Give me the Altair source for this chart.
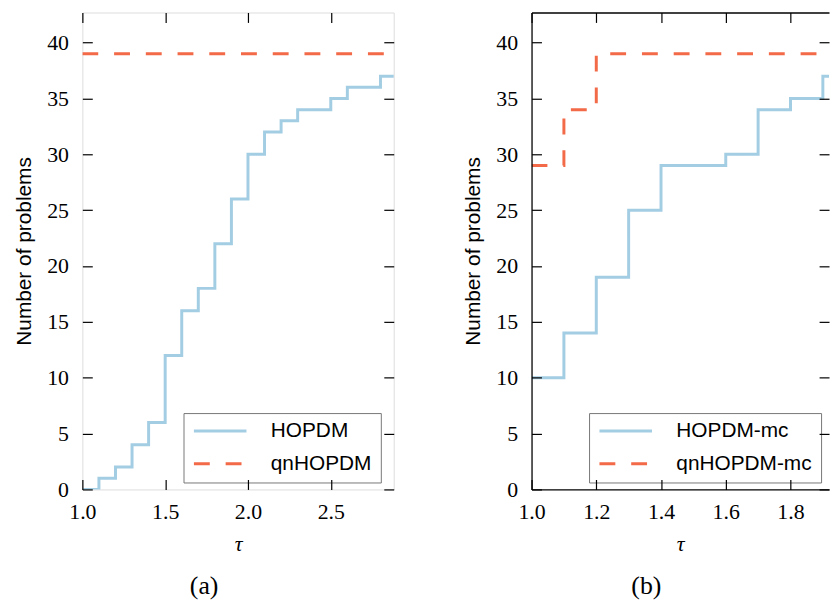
import altair as alt
import pandas as pd

# ---- data ----
# panel (a)
a_names = ["HOPDM", "qnHOPDM"]
a_tau_hopdm = [1.0, 1.1, 1.2, 1.3, 1.4, 1.5, 1.6, 1.7, 1.8, 1.9, 2.0, 2.1, 2.2, 2.3, 2.5, 2.6, 2.8, 3.0]
a_val_hopdm = [0, 1, 2, 4, 6, 12, 16, 18, 22, 26, 30, 32, 33, 34, 35, 36, 37, 37]
a_tau_qn = [1.0, 3.0]
a_val_qn = [39, 39]
a_xmax = 2.88
a_xticks = [1.0, 1.5, 2.0, 2.5]

# panel (b)
b_names = ["HOPDM-mc", "qnHOPDM-mc"]
b_tau_hopdm = [1.0, 1.1, 1.2, 1.3, 1.4, 1.6, 1.7, 1.8, 1.9, 2.1]
b_val_hopdm = [10, 14, 19, 25, 29, 30, 34, 35, 37, 37]
b_tau_qn = [1.0, 1.1, 1.2, 2.1]
b_val_qn = [29, 34, 39, 39]
b_xmax = 1.919
b_xticks = [1.0, 1.2, 1.4, 1.6, 1.8]

y_ticks = [0, 5, 10, 15, 20, 25, 30, 35, 40]
y_max = 42.7

BLUE = "#a3cde3"
ORANGE = "#f26a48"
SERIF = "Liberation Serif"
SANS = "Liberation Sans"


def frame_of(names, t1, v1, t2, v2):
    d1 = pd.DataFrame({"tau": t1, "value": v1, "series": names[0]})
    d2 = pd.DataFrame({"tau": t2, "value": v2, "series": names[1]})
    return pd.concat([d1, d2], ignore_index=True)


def panel(df, names, xmax, xticks, caption, width, legend_x, open_right):
    xs = alt.Scale(domain=[1.0, xmax], nice=False, zero=False)
    ys = alt.Scale(domain=[0, y_max], nice=False, zero=True)
    legend = alt.Legend(
        title=None, orient="none", legendX=legend_x, legendY=404,
        symbolType="stroke", symbolSize=2809, symbolStrokeWidth=3,
        labelFont=SANS, labelFontSize=21, labelColor="black", labelOffset=23,
        padding=9, strokeColor="#777777", fillColor="white",
        clipHeight=18, rowPadding=12,
    )
    tick_kw = dict(tickSize=10, tickColor="black", tickWidth=1.2, domain=False, grid=False,
                   zindex=1, offset=-10, labelFlush=False)
    lines = alt.Chart(df).mark_line(interpolate="step-after", strokeWidth=3, clip=True).encode(
        x=alt.X("tau:Q", scale=xs, axis=alt.Axis(
            orient="bottom", values=xticks, format=".1f", title="τ",
            labelPadding=12, labelFont=SERIF, labelFontSize=22, labelColor="black",
            titleFont=SERIF, titleFontStyle="italic", titleFontWeight="normal",
            titleFontSize=22, titleColor="black", titlePadding=12, **tick_kw)),
        y=alt.Y("value:Q", scale=ys, axis=alt.Axis(
            orient="left", values=y_ticks, format="d", title="Number of problems",
            labelPadding=14, labelFont=SERIF, labelFontSize=22, labelColor="black",
            titleFont=SANS, titleFontWeight="normal", titleFontSize=21,
            titleColor="black", titlePadding=12, **tick_kw)),
        color=alt.Color("series:N", scale=alt.Scale(domain=names, range=[BLUE, ORANGE]), legend=legend),
        strokeDash=alt.StrokeDash("series:N", scale=alt.Scale(domain=names, range=[[1, 0], [16, 16]]), legend=legend),
    )
    ticks = alt.Chart(df).mark_line(opacity=0, clip=True).encode(
        x=alt.X("tau:Q", scale=xs, axis=alt.Axis(orient="top", values=xticks, labels=False, title=None, **tick_kw)),
        y=alt.Y("value:Q", scale=ys, axis=alt.Axis(orient="right", values=y_ticks, labels=False, title=None, **tick_kw)),
    )
    dom_kw = dict(ticks=False, labels=False, title=None, grid=False, domain=True,
                  domainColor="black", domainWidth=1.3, zindex=1)
    layers = [lines, ticks]
    if open_right:
        border1 = alt.Chart(df).mark_line(opacity=0, clip=True).encode(
            x=alt.X("tau:Q", scale=xs, axis=alt.Axis(orient="top", **dom_kw)),
            y=alt.Y("value:Q", scale=ys, axis=alt.Axis(orient="left", **dom_kw)),
        )
        border2 = alt.Chart(df).mark_line(opacity=0, clip=True).encode(
            x=alt.X("tau:Q", scale=xs, axis=alt.Axis(orient="bottom", **dom_kw)),
            y=alt.Y("value:Q", scale=ys, axis=None),
        )
        layers += [border1, border2]
    props = dict(
        width=width, height=481,
        title=alt.TitleParams(text=caption, orient="bottom", anchor="middle", frame="bounds",
                              offset=18, font=SERIF, fontSize=26, fontWeight="normal", color="black"),
    )
    if open_right:
        props["view"] = alt.ViewBackground(stroke="transparent", strokeWidth=0)
    return alt.layer(*layers).resolve_scale(x="independent", y="independent").properties(**props)


df_a = frame_of(a_names, a_tau_hopdm, a_val_hopdm, a_tau_qn, a_val_qn)
df_b = frame_of(b_names, b_tau_hopdm, b_val_hopdm, b_tau_qn, b_val_qn)

chart = alt.hconcat(
    panel(df_a, a_names, a_xmax, a_xticks, "(a)", 314, 102, False),
    panel(df_b, b_names, b_xmax, b_xticks, "(b)", 300, 58, True),
    spacing=68,
).resolve_scale(color="independent", strokeDash="independent").properties(
    padding={"left": 5, "top": 0, "right": 0, "bottom": 0}
).configure_view(stroke="black", strokeWidth=1.3).configure(background="white")

chart.save("out.html", embed_options={"renderer": "svg", "actions": False})
